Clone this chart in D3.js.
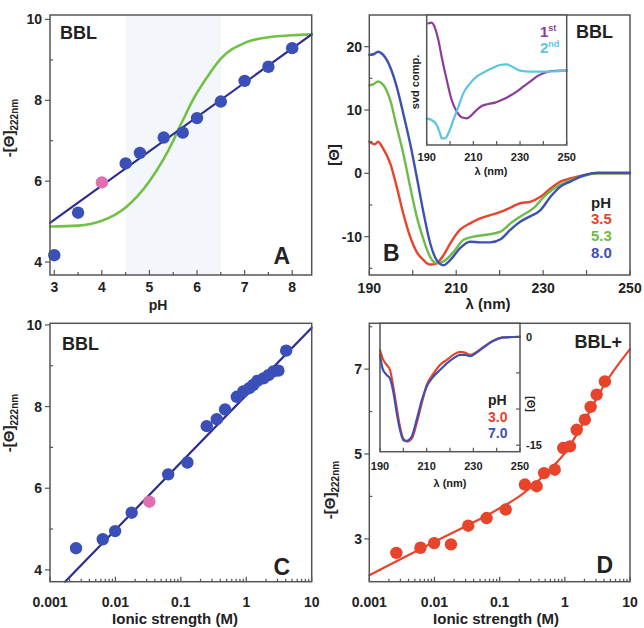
<!DOCTYPE html>
<html>
<head>
<meta charset="utf-8">
<script src="https://cdn.jsdelivr.net/npm/d3@7"></script>
<style>
  body { margin: 0; background: #fff; }
  text { font-family: "Liberation Sans", Arial, sans-serif; font-weight: bold; fill: #222; }
</style>
</head>
<body>
<svg id="fig" width="644" height="628"></svg>
<script>
// ---- Panel A: pH dependence ----
const pHValues = [3, 3.5, 4, 4.5, 4.8, 5.3, 5.7, 6, 6.5, 7, 7.5, 8];
const thetaA   = [4.17, 5.22, 5.97, 6.44, 6.70, 7.08, 7.20, 7.56, 7.97, 8.48, 8.83, 9.29];
const pinkA = 2;
const fitA_pH = [2.91, 8.41];
const fitA_val = [4.97, 9.63];
const sigA_pH  = [2.91, 3.5, 4.0, 4.5, 5.0, 5.3, 5.5, 5.6, 5.7, 5.9, 6.2, 6.5, 7.0, 7.5, 8.0, 8.41];
const sigA_val = [4.88, 4.90, 5.02, 5.35, 6.0, 6.55, 7.0, 7.26, 7.5, 7.98, 8.55, 9.03, 9.42, 9.56, 9.61, 9.63];
const shadeA = [4.5, 6.5];

// ---- Panel B: CD spectra ----
const nmRed   = [190, 191.3, 192, 193.2, 194.8, 196.3, 197.8, 199.4, 200.9, 202.5, 204, 205.5, 207.1, 208.6, 210.9, 213.2, 215.5, 217.8, 220.2, 222.5, 224.8, 227, 229.4, 231.7, 234, 236.3, 239.4, 242.5, 250];
const cdRed   = [5.0, 4.6, 5.0, 3.9, 1.6, -2.1, -6.3, -10, -12.4, -13.7, -14.4, -14.2, -12.9, -11.1, -8.9, -7.9, -7.1, -6.6, -6.1, -5.4, -4.7, -4.5, -3.7, -2.4, -1.3, -0.8, -0.3, 0.0, 0.0];
const nmGreen = [190, 191, 192, 193.2, 194.8, 196.3, 197.8, 199.4, 200.9, 202.5, 204, 205.5, 207.1, 209.4, 211.7, 214, 217, 220.2, 222.5, 224.8, 227.8, 230.2, 232.5, 235.5, 239.4, 242.5, 250];
const cdGreen = [13.9, 14.1, 14.5, 14.0, 11.6, 7.4, 3.2, -2.1, -6.8, -10.5, -13.2, -14.2, -13.9, -12.4, -10.5, -10.0, -9.7, -9.2, -7.9, -6.8, -5.5, -3.7, -2.4, -1.3, -0.4, 0.0, 0.0];
const nmBlue  = [190, 191, 192, 193.2, 194.8, 196.3, 197.8, 199.4, 200.9, 202.5, 204, 205.5, 207.1, 208.6, 210.9, 213.2, 215.5, 217.8, 220.2, 222.5, 224.8, 227, 229.4, 231.7, 234, 236.3, 239.4, 242.5, 250];
const cdBlue  = [18.7, 18.8, 19.2, 18.7, 16.8, 13.7, 9.5, 4.7, -0.5, -6.3, -11, -13.7, -14.5, -13.7, -11.8, -10.8, -10.9, -10.9, -10.4, -8.9, -7.6, -6.8, -5.8, -3.7, -2.1, -1.3, -0.3, 0.1, 0.1];
const pHLegendB = ["3.5", "5.3", "8.0"];

// inset of B: svd components
const nm1st  = [190.7, 192.1, 193.6, 195, 196.4, 198.6, 200.7, 202.9, 205, 207.1, 209.3, 211.4, 213.6, 216.4, 219.3, 222.1, 225, 228.6, 231.4, 234.3, 237.1, 240, 243.6, 247.1, 250];
const svd1st = [1.42, 1.44, 1.27, 0.92, 0.42, -0.28, -0.88, -1.23, -1.40, -1.43, -1.33, -1.18, -1.06, -1.00, -0.96, -0.88, -0.78, -0.63, -0.48, -0.33, -0.18, -0.08, -0.01, 0, 0];
const nm2nd  = [190, 192.1, 194.3, 195.7, 196.4, 197.9, 199.3, 201.4, 203.6, 205.7, 208.6, 211.4, 215, 217.9, 221.4, 224.3, 227.1, 230, 234.3, 240, 250];
const svd2nd = [-1.43, -1.48, -1.63, -1.88, -2.03, -2.03, -1.88, -1.48, -1.08, -0.68, -0.38, -0.18, -0.03, 0.07, 0.17, 0.19, 0.10, 0.0, -0.03, -0.03, 0.0];

// ---- Panel C: ionic strength, BBL ----
const ionicC = [0.0025, 0.0064, 0.0099, 0.0177, 0.033, 0.064, 0.126, 0.249, 0.354, 0.474, 0.716, 0.90, 1.11, 1.28, 1.48, 1.83, 2.18, 2.6, 3.1, 4.07];
const thetaC = [4.53, 4.75, 4.95, 5.40, 5.67, 6.34, 6.63, 7.52, 7.69, 7.93, 8.24, 8.37, 8.45, 8.53, 8.63, 8.69, 8.77, 8.86, 8.88, 9.37];
const pinkC = 4;
const fitC_I = [0.0017, 10];
const fitC_val = [3.71, 9.93];

// ---- Panel D: ionic strength, BBL+ ----
const ionicD = [0.0026, 0.0061, 0.0099, 0.0179, 0.033, 0.063, 0.124, 0.244, 0.369, 0.48, 0.70, 0.944, 1.20, 1.52, 2.03, 2.49, 3.08, 4.12];
const thetaD = [2.67, 2.79, 2.90, 2.87, 3.31, 3.49, 3.69, 4.28, 4.24, 4.55, 4.63, 5.14, 5.18, 5.57, 5.81, 6.11, 6.40, 6.71];
const fitD_I   = [0.001, 0.01, 0.1, 0.2, 0.4, 0.7, 1, 2, 4, 10];
const fitD_val = [2.14, 2.93, 3.72, 4.0, 4.38, 4.75, 5.02, 5.78, 6.62, 7.47];

// inset of D: spectra at pH 3.0 and 7.0
const nmD3   = [190, 191.1, 192.9, 194.3, 195.7, 197.1, 198.6, 200, 201.7, 203.6, 205.7, 207.9, 210, 212.9, 215.7, 218.6, 221.4, 224.3, 226.4, 228.6, 231.4, 234.3, 238.6, 242.9, 250];
const cdD3   = [-1.85, -3.0, -3.9, -4.6, -6.9, -9.7, -12.5, -14.1, -14.5, -14.1, -12.0, -9.2, -6.7, -5.1, -3.9, -3.2, -2.5, -2.1, -2.2, -2.5, -2.1, -1.4, -0.55, -0.1, 0];
const nmD7   = [190, 191.1, 192.9, 194.3, 195.7, 197.1, 198.6, 200, 201.4, 203.6, 205.7, 207.9, 210, 212.9, 215.7, 218.6, 221.4, 224.3, 226.4, 228.6, 231.4, 234.3, 238.6, 242.9, 250];
const cdD7   = [-2.5, -4.4, -5.3, -5.8, -7.6, -10.4, -12.9, -14.3, -14.4, -13.8, -11.5, -8.8, -6.9, -5.5, -4.6, -3.7, -3.0, -2.5, -2.5, -2.7, -2.2, -1.5, -0.55, -0.1, 0];
const pHLegendD = ["3.0", "7.0"];

// colours
const navy = "#2c2d8c", dotBlue = "#3b4fb8", pink = "#e06fb2", green = "#72c046";
const red = "#e8432b", specGreen = "#6dbb4b", specBlue = "#3e50b2";
const purple = "#8e3c9c", cyan = "#5cc6e0", frameCol = "#555";

const svg = d3.select("#fig");

function frame(sx, sy) {
  const [x0, x1] = sx.range(), [y0, y1] = sy.range();
  svg.append("rect")
    .attr("x", x0).attr("y", y1).attr("width", x1 - x0).attr("height", y0 - y1)
    .attr("fill", "none").attr("stroke", frameCol).attr("stroke-width", 1.5);
}

// ticks along the bottom edge, pointing inward
function bottomTicks(sx, sy, values, len) {
  const yb = sy.range()[0];
  svg.append("g").selectAll("line").data(values).join("line")
    .attr("x1", d => sx(d)).attr("x2", d => sx(d))
    .attr("y1", yb).attr("y2", yb - len)
    .attr("stroke", frameCol).attr("stroke-width", 1.2);
}
// ticks on a vertical edge: len > 0 inward (right), len < 0 outward
function sideTicks(xEdge, sy, values, len) {
  svg.append("g").selectAll("line").data(values).join("line")
    .attr("x1", xEdge).attr("x2", xEdge + len)
    .attr("y1", d => sy(d)).attr("y2", d => sy(d))
    .attr("stroke", frameCol).attr("stroke-width", 1.2);
}
function xLabels(sx, values, yBase, size, fmt) {
  svg.append("g").selectAll("text").data(values).join("text")
    .attr("x", d => sx(d)).attr("y", yBase)
    .attr("text-anchor", "middle").attr("font-size", size)
    .text(fmt || (d => d));
}
function yLabels(sy, values, xEnd, size, anchor) {
  svg.append("g").selectAll("text").data(values).join("text")
    .attr("x", xEnd).attr("y", d => sy(d)).attr("dy", "0.36em")
    .attr("text-anchor", anchor || "end").attr("font-size", size)
    .text(d => d);
}
function label(x, y, txt, size, anchor, color) {
  return svg.append("text").attr("x", x).attr("y", y)
    .attr("font-size", size).attr("text-anchor", anchor || "start")
    .style("fill", color || "#222").text(txt);
}
function thetaTitle(cx, cy) {
  const t = svg.append("text")
    .attr("transform", `translate(${cx},${cy}) rotate(-90)`)
    .attr("text-anchor", "middle").attr("font-size", 15);
  t.append("tspan").text("-[Θ]");
  t.append("tspan").attr("font-size", 10).attr("dy", 4).text("222nm");
}
function path(xs, ys, sx, sy, color, width, curve) {
  const pts = xs.map((v, i) => [sx(v), sy(ys[i])]);
  svg.append("path")
    .attr("d", d3.line().curve(curve || d3.curveMonotoneX)(pts))
    .attr("fill", "none").attr("stroke", color).attr("stroke-width", width)
    .attr("stroke-linejoin", "round").attr("stroke-linecap", "round");
}
function dots(xs, ys, sx, sy, color, pinkIdx) {
  svg.append("g").selectAll("circle").data(xs).join("circle")
    .attr("cx", d => sx(d)).attr("cy", (d, i) => sy(ys[i])).attr("r", 6.2)
    .attr("fill", (d, i) => i === pinkIdx ? pink : color);
}
const logMinor = d3.range(-3, 1).flatMap(e => d3.range(2, 10).map(m => m * Math.pow(10, e)));

// ================= Panel A =================
const xA = d3.scaleLinear([2.91, 8.41], [50, 311.7]);
const yA = d3.scaleLinear([3.68, 10.11], [275, 15]);
svg.append("rect")
  .attr("x", xA(shadeA[0])).attr("y", 16).attr("width", xA(shadeA[1]) - xA(shadeA[0])).attr("height", 258)
  .attr("fill", "#f3f7fb");
path(sigA_pH, sigA_val, xA, yA, green, 2.6);
path(fitA_pH, fitA_val, xA, yA, navy, 2.2, d3.curveLinear);
dots(pHValues, thetaA, xA, yA, dotBlue, pinkA);
frame(xA, yA);
bottomTicks(xA, yA, d3.range(3, 8.5, 1), 5);
bottomTicks(xA, yA, d3.range(3.5, 8.5, 1), 3);
sideTicks(50, yA, [4, 6, 8, 10], -5);
sideTicks(50, yA, [5, 7, 9], 3);
xLabels(xA, [3, 4, 5, 6, 7, 8], 292, 14);
yLabels(yA, [4, 6, 8, 10], 42, 14);
label(158, 310, "pH", 14, "middle");
thetaTitle(14, 128);
label(60, 39, "BBL", 18);
label(290, 264, "A", 23, "end");

// ================= Panel B =================
const xB = d3.scaleLinear([190, 250], [369.3, 630]);
const yB = d3.scaleLinear([-16.05, 25], [275, 15]);
path(nmRed, cdRed, xB, yB, red, 2.4);
path(nmGreen, cdGreen, xB, yB, specGreen, 2.4);
path(nmBlue, cdBlue, xB, yB, specBlue, 2.4);
frame(xB, yB);
bottomTicks(xB, yB, d3.range(190, 251, 10), 5);
sideTicks(369.3, yB, [-10, 0, 10, 20], -5);
sideTicks(369.3, yB, [-15, -5, 5, 15], 3);
xLabels(xB, [190, 210, 230, 250], 293, 14);
yLabels(yB, [-10, 0, 10, 20], 362, 14);
label(488, 309, "λ (nm)", 15, "middle");
label(334, 155, "[Θ]", 15, "middle")
  .attr("transform", "rotate(-90,334,155)").attr("dy", "0.36em");
label(613, 38, "BBL", 18, "end");
label(383, 261, "B", 23);
label(591, 208, "pH", 15);
[red, specGreen, specBlue].forEach((c, i) => label(591, 224 + i * 17, pHLegendB[i], 15, "start", c));

// inset B
const xBi = d3.scaleLinear([190, 250], [426.7, 566.7]);
const yBi = d3.scaleLinear([-2.23, 1.67], [145, 15]);
svg.append("rect").attr("x", 426.7).attr("y", 15).attr("width", 140).attr("height", 130).attr("fill", "#fff");
path(nm1st, svd1st, xBi, yBi, purple, 2.2);
path(nm2nd, svd2nd, xBi, yBi, cyan, 2.2);
frame(xBi, yBi);
bottomTicks(xBi, yBi, d3.range(190, 251, 10), 4);
xLabels(xBi, [190, 210, 230, 250], 161, 11);
label(491, 175, "λ (nm)", 11, "middle");
label(415, 82, "svd comp.", 11, "middle")
  .attr("transform", "rotate(-90,415,82)").attr("dy", "0.36em");
const l1 = label(540, 37, "1", 15, "start", purple);
l1.append("tspan").attr("font-size", 9).attr("dy", -6).text("st");
const l2 = label(540, 53, "2", 15, "start", cyan);
l2.append("tspan").attr("font-size", 9).attr("dy", -6).text("nd");

// ================= Panel C =================
const xC = d3.scaleLog([0.001, 10], [50, 311.7]);
const yC = d3.scaleLinear([3.71, 10.04], [581.7, 323.3]);
path(fitC_I, fitC_val, xC, yC, navy, 2.2, d3.curveLinear);
dots(ionicC, thetaC, xC, yC, dotBlue, pinkC);
frame(xC, yC);
bottomTicks(xC, yC, [0.001, 0.01, 0.1, 1, 10], 5);
bottomTicks(xC, yC, logMinor, 3);
sideTicks(50, yC, [4, 6, 8, 10], -5);
sideTicks(50, yC, [5, 7, 9], 3);
xLabels(xC, [0.001, 0.01, 0.1, 1, 10], 607, 14, d => String(d));
yLabels(yC, [4, 6, 8, 10], 42, 14);
label(175, 624, "Ionic strength (M)", 15, "middle");
thetaTitle(14, 423);
label(62, 350, "BBL", 18);
label(290, 575, "C", 23, "end");

// ================= Panel D =================
const xD = d3.scaleLog([0.001, 10], [369.3, 630]);
const yD = d3.scaleLinear([1.99, 8.08], [581.7, 323.3]);
path(fitD_I, fitD_val, xD, yD, red, 2.2);
dots(ionicD, thetaD, xD, yD, red, -1);
frame(xD, yD);
bottomTicks(xD, yD, [0.001, 0.01, 0.1, 1, 10], 5);
bottomTicks(xD, yD, logMinor, 3);
sideTicks(369.3, yD, [3, 5, 7], -5);
sideTicks(369.3, yD, [4, 6, 8], 3);
xLabels(xD, [0.001, 0.01, 0.1, 1, 10], 607, 14, d => String(d));
yLabels(yD, [3, 5, 7], 362, 14);
label(496, 624, "Ionic strength (M)", 15, "middle");
thetaTitle(335, 490);
label(622, 348, "BBL+", 18, "end");
label(613, 573, "D", 23, "end");

// inset D
const xDi = d3.scaleLinear([190, 250], [380, 520]);
const yDi = d3.scaleLinear([-15.9, 1.86], [451.7, 323.3]);
svg.append("rect").attr("x", 380).attr("y", 323.3).attr("width", 140).attr("height", 128.4).attr("fill", "#fff");
path(nmD3, cdD3, xDi, yDi, red, 2.2);
path(nmD7, cdD7, xDi, yDi, specBlue, 2.2);
frame(xDi, yDi);
bottomTicks(xDi, yDi, d3.range(190, 251, 10), 4);
sideTicks(520, yDi, [-15, -10, -5, 0], -4);
xLabels(xDi, [190, 210, 230, 250], 470, 11);
yLabels(yDi, [0, -15], 526, 11, "start");
label(450, 487, "λ (nm)", 11, "middle");
label(531, 404, "[Θ]", 11, "middle")
  .attr("transform", "rotate(90,531,404)").attr("dy", "0.36em");
label(488, 405, "pH", 14);
[red, specBlue].forEach((c, i) => label(488, 422 + i * 16, pHLegendD[i], 14, "start", c));
</script>
</body>
</html>
